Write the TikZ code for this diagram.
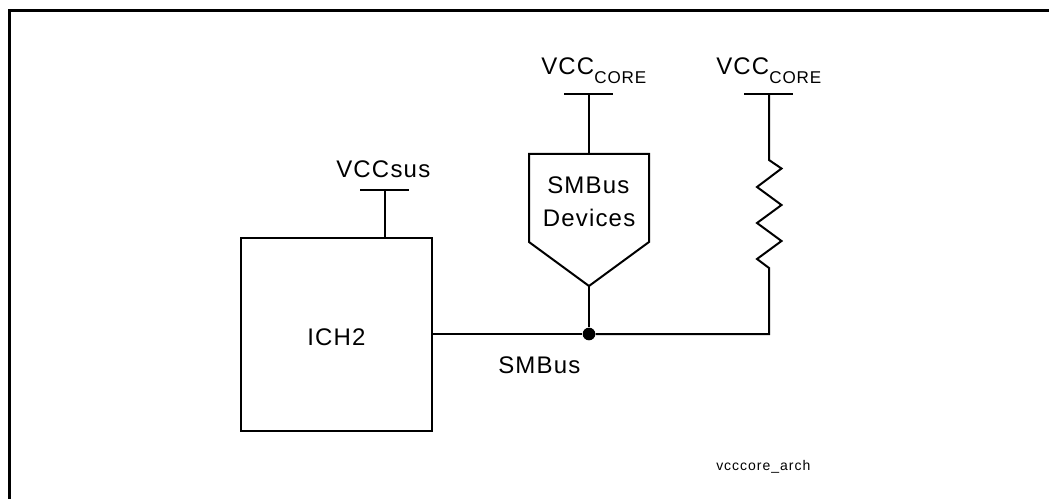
\documentclass[tikz,border=0pt]{standalone}
\usepackage{fontspec}
\usepackage{tikz}
\setmainfont[LetterSpace=5]{Liberation Sans}
\newfontfamily\tagfont[LetterSpace=7]{Liberation Sans}
\newcommand{\vcccore}{VCC\raisebox{-6.75pt}{\fontsize{12.8}{12.8}\selectfont CORE}}

\begin{document}
\begin{tikzpicture}[
    x=0.75pt, y=-0.75pt,
    blocknode/.style={draw=black, fill=white, line width=1.5pt, inner sep=0pt},
    labelnode/.style={font=\fontsize{18}{24}\selectfont, inner sep=0pt, anchor=base west},
    tagnode/.style={font=\tagfont\fontsize{10.5}{12}\selectfont, inner sep=0pt, anchor=base west},
    wire/.style={draw=black, line width=1.5pt},
    framing/.style={draw=black, line width=2.25pt}
  ]
    \useasboundingbox (0,0) rectangle (1049,499);

    % page frame, open on the right
    \coordinate (fbot) at (9,499);
    \coordinate (fcorner) at (9,11);
    \coordinate (fright) at (1049,11);
    \draw[framing] (fbot) -- (fcorner) -- (fright);

    \node[blocknode, minimum width=143.25pt, minimum height=144.75pt] (ich) at (336.5,334.5) {};
    \node[labelnode] (ichname) at (307,345) {ICH2};

    % rails
    \coordinate (railsus) at (385,190);
    \coordinate (raildev) at (589,94);
    \coordinate (railres) at (769,94);
    \coordinate (sl) at (360,190);
    \coordinate (sr) at (409,190);
    \coordinate (dl) at (564,94);
    \coordinate (dr) at (613,94);
    \coordinate (rl) at (744,94);
    \coordinate (rr) at (793,94);
    \draw[wire] (sl) -- (sr);
    \draw[wire] (dl) -- (dr);
    \draw[wire] (rl) -- (rr);

    \node[labelnode] (vsus) at (336,177) {VCCsus};
    \node[labelnode] (vdev) at (541,75) {\vcccore};
    \node[labelnode] (vres) at (716,75) {\vcccore};

    % device outline
    \coordinate (dtop) at (589,154);
    \coordinate (dtip) at (589,286);
    \draw[wire] (529,154) -- (dtop) -- (649,154) -- (649,242) -- (dtip) -- (529,242) -- cycle;
    \node[labelnode] (devname) at (547,194) {SMBus};
    \node[labelnode] (devname2) at (542.5,226) {Devices};

    % bus
    \node[circle, fill=black, inner sep=0pt, minimum size=9.5pt] (junction) at (589,334) {};
    \coordinate (buscorner) at (769,334);
    \coordinate (rtop) at (769,160);
    \coordinate (rbot) at (769,268);
    \draw[wire] (railsus) -- (railsus |- ich.north);
    \draw[wire] (raildev) -- (dtop);
    \draw[wire] (dtip) -- (junction);
    \draw[wire] (ich.east |- junction) -- (junction);
    \draw[wire] (railres) -- (rtop) -- (781.5,168.5) -- (757,187) -- (781.5,205) -- (757,223) -- (781.5,241) -- (757,259) -- (rbot) -- (buscorner) -- (junction);

    \node[labelnode] (busname) at (498,373) {SMBus};
    \node[tagnode] (tag) at (716,470.5) {vcccore\_arch};
  \end{tikzpicture}
\end{document}
